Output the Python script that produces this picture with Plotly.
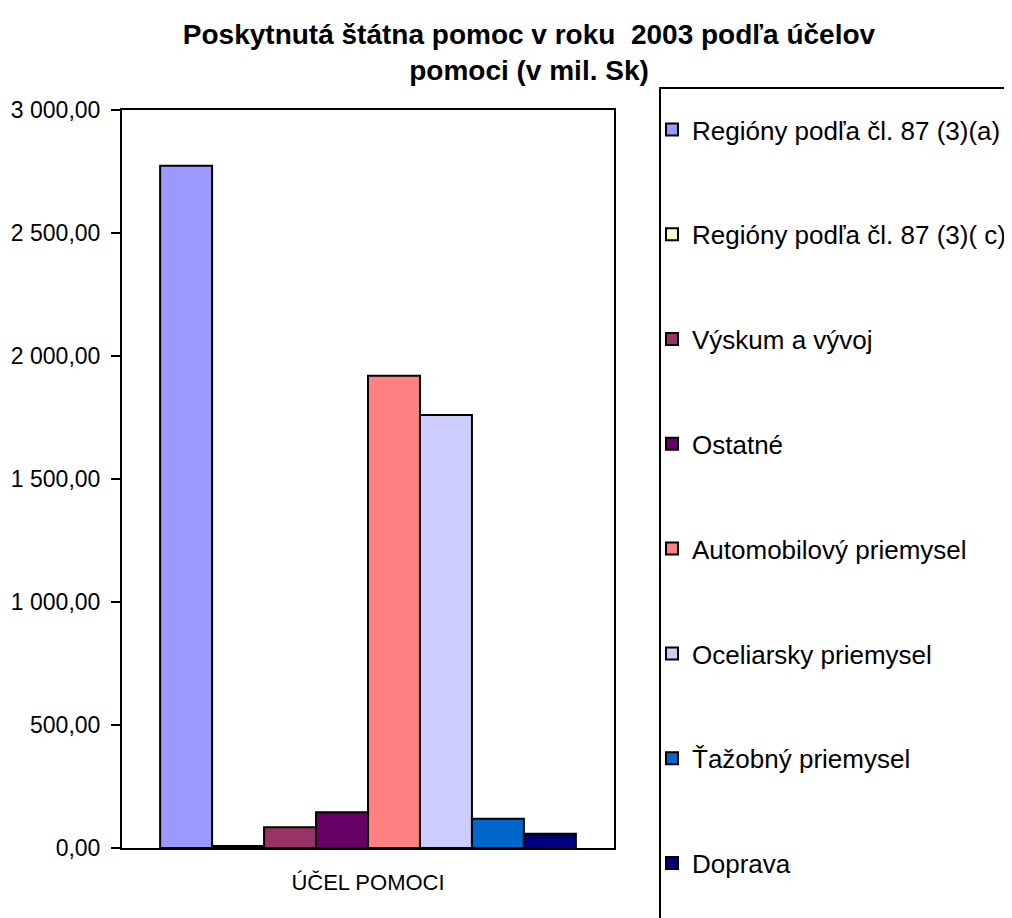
import plotly.graph_objects as go

categories = ["ÚČEL POMOCI"]
series_names = [
    "Regióny podľa čl. 87 (3)(a)",
    "Regióny podľa čl. 87 (3)( c)",
    "Výskum a vývoj",
    "Ostatné",
    "Automobilový priemysel",
    "Oceliarsky priemysel",
    "Ťažobný priemysel",
    "Doprava",
]
series_values = [2773, 8, 84, 145, 1920, 1760, 119, 58]
series_colors = ["#9999FF", "#FFFFCC", "#993366", "#660066",
                 "#FF8080", "#CCCCFF", "#0066CC", "#000080"]
y_ticks = [0, 500, 1000, 1500, 2000, 2500, 3000]

# page body has an 8px margin; work in screen pixels and subtract it
OFF = 8
W, H = 1012 - OFF, 918 - OFF
PL, PR, PT, PB = 122 - OFF, 614 - OFF, 110 - OFF, 848 - OFF
L, R, T, B = PL, W - PR, PT, H - PB
pw, ph = PR - PL, PB - PT

def px_x(p):
    return (p - OFF - L) / pw

def px_y(p):
    return (PB - (p - OFF)) / ph

fig = go.Figure()
for i, (name, val, col) in enumerate(zip(series_names, series_values, series_colors)):
    fig.add_trace(go.Bar(
        x=categories, y=[val], name=name,
        marker=dict(color=col, line=dict(color="black", width=2)),
        legendgroup=str(i),
    ))

fig.update_layout(
    width=W, height=H,
    margin=dict(l=L, r=R, t=T, b=B, autoexpand=False),
    paper_bgcolor="white", plot_bgcolor="white",
    barmode="group", bargap=0.155, bargroupgap=0,
    separators=", ",
    font=dict(family="Liberation Sans, Arial, sans-serif", color="black", size=23),
    title=dict(
        text="Poskytnutá štátna pomoc v roku \u00a02003 podľa účelov<br>pomoci (v mil. Sk)",
        font=dict(size=28, family="Liberation Sans, Arial, sans-serif", color="black", weight="bold"),
        x=(529 - OFF) / W, xanchor="center", xref="container",
        y=1 - 36 / H, yanchor="top", yref="container",
    ),
    showlegend=True,
    legend=dict(
        x=px_x(652), xanchor="left",
        y=px_y(106), yanchor="top",
        font=dict(size=26),
        tracegroupgap=68,
        bgcolor="rgba(0,0,0,0)",
        borderwidth=0,
        maxheight=2000,
    ),
    xaxis=dict(
        showline=True, linecolor="black", linewidth=2, mirror=True,
        ticks="", showgrid=False, ticklabelstandoff=14,
        tickfont=dict(size=22), automargin=False,
    ),
    yaxis=dict(
        range=[0, 3000], tickvals=y_ticks, tickformat=",.2f",
        showline=True, linecolor="black", linewidth=2, mirror=True,
        ticks="outside", ticklen=9, tickwidth=2, tickcolor="black",
        showgrid=False, zeroline=False, ticklabelstandoff=6,
        automargin=False,
    ),
    shapes=[dict(
        type="rect", xref="paper", yref="paper",
        x0=px_x(660), x1=px_x(1060), y0=px_y(940), y1=px_y(88),
        line=dict(color="black", width=2), fillcolor="rgba(0,0,0,0)",
    )],
)

fig.write_html("out.html")
